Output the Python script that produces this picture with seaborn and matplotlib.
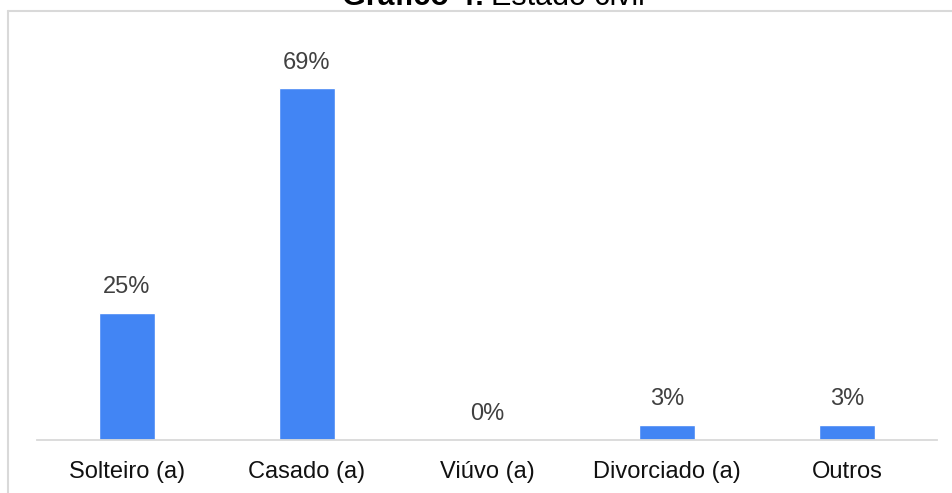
import matplotlib
matplotlib.use("Agg")
import matplotlib.pyplot as plt
from matplotlib.lines import Line2D
import seaborn as sns
import pandas as pd

# Estado civil dos respondentes (%)
categorias = ["Solteiro (a)", "Casado (a)", "Viúvo (a)", "Divorciado (a)", "Outros"]
percentuais = [25, 69, 0, 3, 3]
rotulos = [f"{v}%" for v in percentuais]

sns.set_theme(style="white")
plt.rcParams["font.family"] = ["Liberation Sans", "DejaVu Sans"]

W, H, DPI = 952, 493, 100
fig = plt.figure(figsize=(W / DPI, H / DPI), dpi=DPI)
fig.patch.set_facecolor("white")

# axes placed in pixel units: baseline at y=440, plot spans x 37..937
left, right, base, top = 37, 937, 440, 32
ax = fig.add_axes([left / W, (H - base) / H, (right - left) / W, (base - top) / H])

df = pd.DataFrame({"categoria": categorias, "percentual": percentuais})
sns.barplot(data=df, x="categoria", y="percentual", color="#4285F4",
            saturation=1, width=0.31, ax=ax)

ax.set_ylim(0, (base - top) / 5.1)
ax.set_xlim(-0.5, len(categorias) - 0.5)
ax.bar_label(ax.containers[0], labels=rotulos, padding=10.5,
             fontsize=17, color="#404040")

ax.set_xlabel("")
ax.set_ylabel("")
ax.set_yticks([])
ax.tick_params(axis="x", length=0, pad=15, labelsize=17, labelcolor="#111111")
for s in ["top", "left", "right"]:
    ax.spines[s].set_visible(False)
ax.spines["bottom"].set_color("#d9d9d9")
ax.spines["bottom"].set_linewidth(1.3)

# outer frame of the chart area
fx0, fy0 = 8 / W, 1 - 11 / H
fig.add_artist(Line2D([fx0, 1.0], [fy0, fy0], transform=fig.transFigure,
                      color="#d9d9d9", lw=1.5))
fig.add_artist(Line2D([fx0, fx0], [fy0, 0.0], transform=fig.transFigure,
                      color="#d9d9d9", lw=1.5))

# title: bold prefix followed by regular text
ty = 1 - 5 / H
fig.text(484 / W, ty, "Gráfico 4:", ha="right", va="baseline",
         fontsize=22, fontweight="bold", color="black")
fig.text(491 / W, ty, "Estado civil", ha="left", va="baseline",
         fontsize=22, color="black")

fig.savefig("out.png", dpi=DPI, facecolor="white")
